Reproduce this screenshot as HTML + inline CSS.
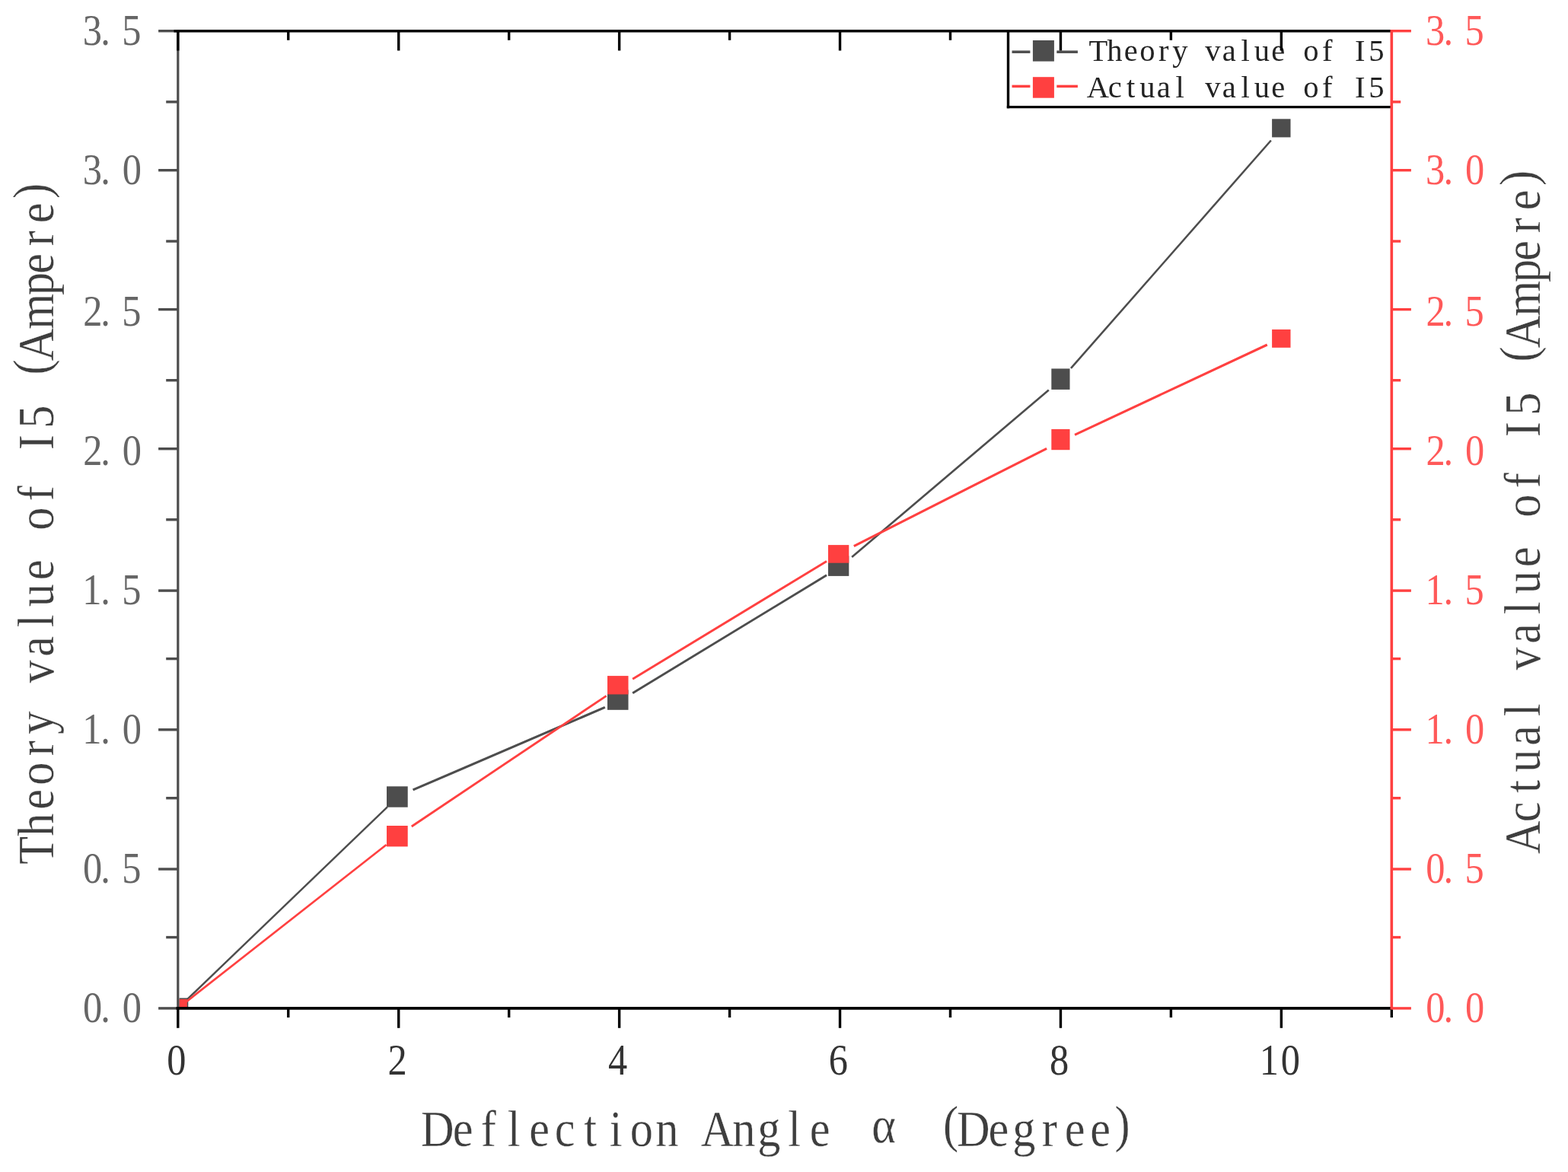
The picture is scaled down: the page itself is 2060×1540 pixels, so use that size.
<!DOCTYPE html>
<html lang="en">
<head>
<meta charset="utf-8">
<title>Theory and actual value of I5 versus deflection angle</title>
<style>
html,body{margin:0;padding:0;background:#fff;}
body{width:2060px;height:1540px;overflow:hidden;}
svg{display:block;}
text{font-family:"Liberation Serif","Noto Serif CJK SC",serif;text-anchor:middle;white-space:pre;}
</style>
</head>
<body>
<svg width="2060" height="1540" viewBox="0 0 2060 1540" role="img" aria-label="Line chart: theory and actual value of I5 (Ampere) versus deflection angle (Degree)">
<defs><clipPath id="plot"><rect x="235.5" y="40.7" width="1594.5" height="1282.5"/></clipPath></defs>
<rect width="2060" height="1540" fill="#fff"/>
<g clip-path="url(#plot)">
<line x1="233.8" y1="1324.9" x2="508.93" y2="1060.26" stroke="#4d4d4d" stroke-width="2.45"/>
<line x1="542.54" y1="1037.94" x2="794.79" y2="929.4" stroke="#4d4d4d" stroke-width="3.12"/>
<line x1="831.14" y1="910.65" x2="1086.01" y2="755.82" stroke="#4d4d4d" stroke-width="2.91"/>
<line x1="1119.16" y1="731.92" x2="1377.8" y2="512.6" stroke="#4d4d4d" stroke-width="2.59"/>
<line x1="1406.96" y1="483.94" x2="1669.82" y2="184.53" stroke="#4d4d4d" stroke-width="2.56"/>
<rect x="220.3" y="1311.4" width="27" height="27" fill="#4d4d4d"/>
</g>
<rect x="508" y="1033.3" width="27.7" height="27.4" fill="#4d4d4d"/>
<rect x="798" y="906.5" width="27.5" height="26.3" fill="#4d4d4d"/>
<rect x="1088" y="730.5" width="27.3" height="26.4" fill="#4d4d4d"/>
<rect x="1381.3" y="484.4" width="24.2" height="27.5" fill="#4d4d4d"/>
<rect x="1671.1" y="156.3" width="24.4" height="24.1" fill="#4d4d4d"/>
<g clip-path="url(#plot)">
<line x1="233.8" y1="1324.9" x2="507.58" y2="1110.07" stroke="#ff4040" stroke-width="2.67"/>
<line x1="540.73" y1="1085.99" x2="796.59" y2="914.37" stroke="#ff4040" stroke-width="2.82"/>
<line x1="831.14" y1="892.3" x2="1086.01" y2="737.47" stroke="#ff4040" stroke-width="2.91"/>
<line x1="1121.82" y1="717.57" x2="1375.15" y2="589.32" stroke="#ff4040" stroke-width="3.03"/>
<line x1="1412" y1="571.37" x2="1664.78" y2="453" stroke="#ff4040" stroke-width="3.08"/>
<rect x="220.3" y="1312.9" width="25.5" height="25.5" fill="#ff4040"/>
</g>
<rect x="508" y="1085" width="27.7" height="27.4" fill="#ff4040"/>
<rect x="798" y="888.1" width="27.5" height="24.3" fill="#ff4040"/>
<rect x="1088" y="716.1" width="27.3" height="23.6" fill="#ff4040"/>
<rect x="1381.3" y="563.9" width="24.2" height="27.3" fill="#ff4040"/>
<rect x="1671.1" y="432.9" width="24.4" height="23.9" fill="#ff4040"/>
<line x1="1324.5" y1="40.7" x2="1324.5" y2="142.3" stroke="#000" stroke-width="3.4"/>
<line x1="1322.8" y1="140.6" x2="1828.3" y2="140.6" stroke="#000" stroke-width="3.4"/>
<line x1="1329.5" y1="68.2" x2="1353.4" y2="68.2" stroke="#4d4d4d" stroke-width="3.5"/>
<line x1="1388.3" y1="68.2" x2="1415.9" y2="68.2" stroke="#4d4d4d" stroke-width="3.5"/>
<rect x="1356.9" y="53" width="28" height="27.6" fill="#4d4d4d"/>
<line x1="1329.5" y1="113.4" x2="1353.4" y2="113.4" stroke="#ff4040" stroke-width="3.5"/>
<line x1="1388.3" y1="113.4" x2="1415.9" y2="113.4" stroke="#ff4040" stroke-width="3.5"/>
<rect x="1356.9" y="101.2" width="28" height="27.5" fill="#ff4040"/>
<text class="lg" transform="translate(1432 79.8)" x="10.75 32.25 53.75 75.25 96.75 118.25 139.75 161.25 182.75 204.25 225.75 247.25 268.75 290.25 311.75 333.25 354.75 376.25" y="0" font-size="40.5" fill="#222">Theory value of I5</text>
<text class="lg" transform="translate(1432 128)" x="10.3 32.7 53.75 75.25 96.75 118.25 139.75 161.25 182.75 204.25 225.75 247.25 268.75 290.25 311.75 333.25 354.75 376.25" y="0" font-size="40.5" fill="#222">Actual value of I5</text>
<line x1="233.8" y1="39" x2="233.8" y2="1326.6" stroke="#4d4d4d" stroke-width="3.2"/>
<line x1="208.1" y1="1324.9" x2="233.8" y2="1324.9" stroke="#4d4d4d" stroke-width="3.4"/>
<line x1="208.1" y1="1142" x2="233.8" y2="1142" stroke="#4d4d4d" stroke-width="3.4"/>
<line x1="208.1" y1="958.8" x2="233.8" y2="958.8" stroke="#4d4d4d" stroke-width="3.4"/>
<line x1="208.1" y1="776.1" x2="233.8" y2="776.1" stroke="#4d4d4d" stroke-width="3.4"/>
<line x1="208.1" y1="589.7" x2="233.8" y2="589.7" stroke="#4d4d4d" stroke-width="3.4"/>
<line x1="208.1" y1="406.6" x2="233.8" y2="406.6" stroke="#4d4d4d" stroke-width="3.4"/>
<line x1="208.1" y1="223.7" x2="233.8" y2="223.7" stroke="#4d4d4d" stroke-width="3.4"/>
<line x1="208.1" y1="40.7" x2="233.8" y2="40.7" stroke="#4d4d4d" stroke-width="3.4"/>
<line x1="218.2" y1="1231.6" x2="233.8" y2="1231.6" stroke="#4d4d4d" stroke-width="3.4"/>
<line x1="218.2" y1="1048.7" x2="233.8" y2="1048.7" stroke="#4d4d4d" stroke-width="3.4"/>
<line x1="218.2" y1="865.6" x2="233.8" y2="865.6" stroke="#4d4d4d" stroke-width="3.4"/>
<line x1="218.2" y1="682.8" x2="233.8" y2="682.8" stroke="#4d4d4d" stroke-width="3.4"/>
<line x1="218.2" y1="499.7" x2="233.8" y2="499.7" stroke="#4d4d4d" stroke-width="3.4"/>
<line x1="218.2" y1="317" x2="233.8" y2="317" stroke="#4d4d4d" stroke-width="3.4"/>
<line x1="218.2" y1="133.9" x2="233.8" y2="133.9" stroke="#4d4d4d" stroke-width="3.4"/>
<line x1="228.5" y1="40.7" x2="1828.3" y2="40.7" stroke="#000" stroke-width="3.6"/>
<line x1="231.5" y1="1324.9" x2="1828.3" y2="1324.9" stroke="#000" stroke-width="3.6"/>
<line x1="233.8" y1="40.7" x2="233.8" y2="66.5" stroke="#000" stroke-width="3.4"/>
<line x1="233.8" y1="1324.9" x2="233.8" y2="1350.8" stroke="#000" stroke-width="3.4"/>
<line x1="378.75" y1="40.7" x2="378.75" y2="52.8" stroke="#000" stroke-width="3.4"/>
<line x1="378.75" y1="1324.9" x2="378.75" y2="1337" stroke="#000" stroke-width="3.4"/>
<line x1="523.71" y1="40.7" x2="523.71" y2="66.5" stroke="#000" stroke-width="3.4"/>
<line x1="523.71" y1="1324.9" x2="523.71" y2="1350.8" stroke="#000" stroke-width="3.4"/>
<line x1="668.66" y1="40.7" x2="668.66" y2="52.8" stroke="#000" stroke-width="3.4"/>
<line x1="668.66" y1="1324.9" x2="668.66" y2="1337" stroke="#000" stroke-width="3.4"/>
<line x1="813.62" y1="40.7" x2="813.62" y2="66.5" stroke="#000" stroke-width="3.4"/>
<line x1="813.62" y1="1324.9" x2="813.62" y2="1350.8" stroke="#000" stroke-width="3.4"/>
<line x1="958.57" y1="40.7" x2="958.57" y2="52.8" stroke="#000" stroke-width="3.4"/>
<line x1="958.57" y1="1324.9" x2="958.57" y2="1337" stroke="#000" stroke-width="3.4"/>
<line x1="1103.53" y1="40.7" x2="1103.53" y2="66.5" stroke="#000" stroke-width="3.4"/>
<line x1="1103.53" y1="1324.9" x2="1103.53" y2="1350.8" stroke="#000" stroke-width="3.4"/>
<line x1="1248.48" y1="40.7" x2="1248.48" y2="52.8" stroke="#000" stroke-width="3.4"/>
<line x1="1248.48" y1="1324.9" x2="1248.48" y2="1337" stroke="#000" stroke-width="3.4"/>
<line x1="1393.44" y1="40.7" x2="1393.44" y2="66.5" stroke="#000" stroke-width="3.4"/>
<line x1="1393.44" y1="1324.9" x2="1393.44" y2="1350.8" stroke="#000" stroke-width="3.4"/>
<line x1="1538.39" y1="40.7" x2="1538.39" y2="52.8" stroke="#000" stroke-width="3.4"/>
<line x1="1538.39" y1="1324.9" x2="1538.39" y2="1337" stroke="#000" stroke-width="3.4"/>
<line x1="1683.35" y1="40.7" x2="1683.35" y2="66.5" stroke="#000" stroke-width="3.4"/>
<line x1="1683.35" y1="1324.9" x2="1683.35" y2="1350.8" stroke="#000" stroke-width="3.4"/>
<line x1="1828.3" y1="1324.9" x2="1828.3" y2="1337" stroke="#000" stroke-width="3.4"/>
<line x1="1828.3" y1="39" x2="1828.3" y2="1326.4" stroke="#ff4040" stroke-width="3.6"/>
<line x1="1828.3" y1="1324.9" x2="1853.9" y2="1324.9" stroke="#ff4040" stroke-width="3.4"/>
<line x1="1828.3" y1="1142" x2="1853.9" y2="1142" stroke="#ff4040" stroke-width="3.4"/>
<line x1="1828.3" y1="958.8" x2="1853.9" y2="958.8" stroke="#ff4040" stroke-width="3.4"/>
<line x1="1828.3" y1="776.1" x2="1853.9" y2="776.1" stroke="#ff4040" stroke-width="3.4"/>
<line x1="1828.3" y1="589.7" x2="1853.9" y2="589.7" stroke="#ff4040" stroke-width="3.4"/>
<line x1="1828.3" y1="406.6" x2="1853.9" y2="406.6" stroke="#ff4040" stroke-width="3.4"/>
<line x1="1828.3" y1="223.7" x2="1853.9" y2="223.7" stroke="#ff4040" stroke-width="3.4"/>
<line x1="1828.3" y1="40.7" x2="1853.9" y2="40.7" stroke="#ff4040" stroke-width="3.4"/>
<line x1="1828.3" y1="1231.6" x2="1840.2" y2="1231.6" stroke="#ff4040" stroke-width="3.4"/>
<line x1="1828.3" y1="1048.7" x2="1840.2" y2="1048.7" stroke="#ff4040" stroke-width="3.4"/>
<line x1="1828.3" y1="865.6" x2="1840.2" y2="865.6" stroke="#ff4040" stroke-width="3.4"/>
<line x1="1828.3" y1="682.8" x2="1840.2" y2="682.8" stroke="#ff4040" stroke-width="3.4"/>
<line x1="1828.3" y1="499.7" x2="1840.2" y2="499.7" stroke="#ff4040" stroke-width="3.4"/>
<line x1="1828.3" y1="317" x2="1840.2" y2="317" stroke="#ff4040" stroke-width="3.4"/>
<line x1="1828.3" y1="133.9" x2="1840.2" y2="133.9" stroke="#ff4040" stroke-width="3.4"/>
<text class="tk" transform="translate(100 1342.9) scale(0.9 1)" x="23.89 42.89 81.44" y="0" font-size="56" fill="#666">0.0</text>
<text class="tk" transform="translate(1864.3 1342.9) scale(0.9 1)" x="23.89 42.89 81.44" y="0" font-size="56" fill="#ff5959">0.0</text>
<text class="tk" transform="translate(100 1159.8) scale(0.9 1)" x="23.89 42.89 80.91" y="0" font-size="56" fill="#666">0.5</text>
<text class="tk" transform="translate(1864.3 1159.8) scale(0.9 1)" x="23.89 42.89 80.91" y="0" font-size="56" fill="#ff5959">0.5</text>
<text class="tk" transform="translate(100 976.6) scale(0.9 1)" x="23.11 42.89 81.44" y="0" font-size="56" fill="#666">1.0</text>
<text class="tk" transform="translate(1864.3 976.6) scale(0.9 1)" x="23.11 42.89 81.44" y="0" font-size="56" fill="#ff5959">1.0</text>
<text class="tk" transform="translate(100 793.9) scale(0.9 1)" x="23.11 42.89 80.91" y="0" font-size="56" fill="#666">1.5</text>
<text class="tk" transform="translate(1864.3 793.9) scale(0.9 1)" x="23.11 42.89 80.91" y="0" font-size="56" fill="#ff5959">1.5</text>
<text class="tk" transform="translate(100 610.7) scale(0.9 1)" x="24.2 42.89 81.44" y="0" font-size="56" fill="#666">2.0</text>
<text class="tk" transform="translate(1864.3 610.7) scale(0.9 1)" x="24.2 42.89 81.44" y="0" font-size="56" fill="#ff5959">2.0</text>
<text class="tk" transform="translate(100 427.7) scale(0.9 1)" x="24.2 42.89 80.91" y="0" font-size="56" fill="#666">2.5</text>
<text class="tk" transform="translate(1864.3 427.7) scale(0.9 1)" x="24.2 42.89 80.91" y="0" font-size="56" fill="#ff5959">2.5</text>
<text class="tk" transform="translate(100 241.7) scale(0.9 1)" x="23.64 42.89 81.44" y="0" font-size="56" fill="#666">3.0</text>
<text class="tk" transform="translate(1864.3 241.7) scale(0.9 1)" x="23.64 42.89 81.44" y="0" font-size="56" fill="#ff5959">3.0</text>
<text class="tk" transform="translate(100 58.5) scale(0.9 1)" x="23.64 42.89 80.91" y="0" font-size="56" fill="#666">3.5</text>
<text class="tk" transform="translate(1864.3 58.5) scale(0.9 1)" x="23.64 42.89 80.91" y="0" font-size="56" fill="#ff5959">3.5</text>
<text class="tk" transform="translate(217.9 1412.1) scale(0.9 1)" x="15.56" y="0" font-size="56" fill="#333">0</text>
<text class="tk" transform="translate(507.81 1412.1) scale(0.9 1)" x="15.87" y="0" font-size="56" fill="#333">2</text>
<text class="tk" transform="translate(797.72 1412.1) scale(0.9 1)" x="15.45" y="0" font-size="56" fill="#333">4</text>
<text class="tk" transform="translate(1087.63 1412.1) scale(0.9 1)" x="15.19" y="0" font-size="56" fill="#333">6</text>
<text class="tk" transform="translate(1377.54 1412.1) scale(0.9 1)" x="15.56" y="0" font-size="56" fill="#333">8</text>
<text class="tk" transform="translate(1653.95 1412.1) scale(0.9 1)" x="14.78 46.11" y="0" font-size="56" fill="#333">10</text>
<text class="tt" transform="translate(558 1505.6) scale(0.9 1)" x="18.61 55.83 93.06 130.28 167.5 204.72 241.94 279.17 316.39 353.61 390.83 427.31 466.02 502.5 539.72 576.94 614.17 670 725.83 767.78 800.89 837.72 874.72 911.94 949.17 986.39 1018.28" y="0 0 0 0 0 0 0 0 0 0 0 0 0 0 0 0 0 -5 0 -6 0 0 0 0 0 0 -6" font-size="67" fill="#3e3e3e" stroke="#fff" stroke-width="0.3">Deflection Angle α (Degree)</text>
<text class="tt" transform="translate(70 1134) rotate(-90) scale(0.9 1)" x="18.61 55.83 93.06 130.28 167.5 204.72 241.94 279.17 316.39 353.61 390.83 428.06 465.28 502.5 539.72 576.94 614.17 651.39 688.61 723.98 757.1 805.11 845.69 875.07 911.94 949.17 981.06" y="0 0 0 0 0 0 0 0 0 0 0 0 0 0 0 0 0 0 0 -6 0 0 0 0 0 0 -6" font-size="67" fill="#3e3e3e" stroke="#fff" stroke-width="0.3">Theory value of I5 (Ampere)</text>
<text class="tt" transform="translate(2022.5 1117) rotate(-90) scale(0.9 1)" x="18.61 55.83 93.06 130.28 167.5 204.72 241.94 279.17 316.39 353.61 390.83 428.06 465.28 502.5 539.72 576.94 614.17 651.39 688.61 723.98 757.1 805.11 845.69 875.07 911.94 949.17 981.06" y="0 0 0 0 0 0 0 0 0 0 0 0 0 0 0 0 0 0 0 -6 0 0 0 0 0 0 -6" font-size="67" fill="#3e3e3e" stroke="#fff" stroke-width="0.3">Actual value of I5 (Ampere)</text>
</svg>
</body>
</html>
